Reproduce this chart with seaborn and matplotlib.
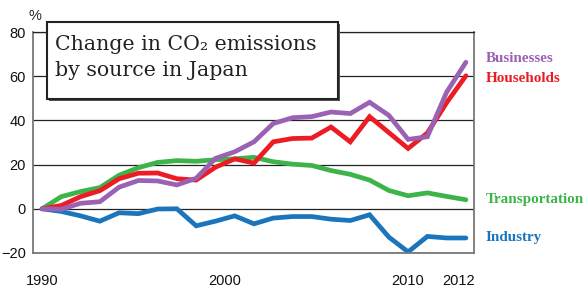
import matplotlib
matplotlib.use("Agg")
import matplotlib.pyplot as plt
import seaborn as sns
import pandas as pd
from matplotlib.patches import Rectangle

years = list(range(1990, 2013))
businesses = [0, -0.2, 2.5, 3.2, 9.8, 12.8, 12.6, 10.8, 13.8, 22.8, 25.8, 30.3,
              38.6, 41.2, 41.7, 43.8, 43.1, 48.2, 42.3, 31.4, 32.6, 52.8, 66.3]
households = [0, 1.5, 5.5, 8.2, 13.6, 16.1, 16.2, 13.6, 13.0, 18.8, 22.6, 20.7,
              30.3, 31.8, 32.0, 37.0, 30.3, 41.7, 34.5, 27.3, 34.3, 48.0, 60.2]
transportation = [0, 5.5, 7.8, 9.6, 15.2, 18.6, 21.0, 21.8, 21.5, 22.2, 22.6, 23.3,
                  21.3, 20.2, 19.6, 17.3, 15.6, 13.0, 8.3, 5.9, 7.2, 5.6, 4.1]
industry = [0, -1.2, -3.2, -5.6, -1.8, -2.2, -0.1, 0, -7.7, -5.6, -3.2, -6.8,
            -4.2, -3.5, -3.5, -4.7, -5.3, -2.7, -12.8, -19.5, -12.5, -13.2, -13.2]

sources = ["Industry", "Transportation", "Households", "Businesses"]
colors = {"Businesses": "#9b62b4", "Households": "#ec1c24",
          "Transportation": "#3cb44a", "Industry": "#1a75bc"}
y_ticks = [-20, 0, 20, 40, 60, 80]
x_tick_pos = [1990, 1999.5, 2009, 2011.6]
x_tick_labels = ["1990", "2000", "2010", "2012"]
title_lines = ["Change in CO\u2082 emissions", "by source in Japan"]

df = pd.DataFrame({"year": years, "Businesses": businesses, "Households": households,
                   "Transportation": transportation, "Industry": industry})
long_df = df.melt(id_vars="year", var_name="source", value_name="pct")

sns.set_style("white")
plt.rcParams["font.family"] = ["Liberation Sans", "DejaVu Sans"]

W, H = 583, 287
fig = plt.figure(figsize=(W / 100, H / 100), dpi=100)
ax = fig.add_axes([33 / W, 34 / H, 441 / W, 221 / H])

sns.lineplot(data=long_df, x="year", y="pct", hue="source", hue_order=sources,
             palette=colors, linewidth=3.4, legend=False, ax=ax,
             solid_joinstyle="miter")

ax.set_xlim(1990 - 0.47, 1990 + 22.42)
ax.set_ylim(-20, 80)
ax.set_yticks(y_ticks)
ax.set_xticks(x_tick_pos)
ax.set_xticklabels(x_tick_labels)
ax.set_xlabel("")
ax.set_ylabel("")
ax.yaxis.grid(True, color="#222222", linewidth=0.9)
ax.xaxis.grid(False)
ax.set_axisbelow(True)
ax.tick_params(axis="both", length=0, labelsize=10.5, colors="#111111")
ax.tick_params(axis="y", pad=5)
ax.tick_params(axis="x", pad=15)
for side in ["left", "right", "bottom"]:
    ax.spines[side].set_color("#777777")
    ax.spines[side].set_linewidth(1.3)
ax.spines["top"].set_color("#222222")
ax.spines["top"].set_linewidth(0.9)

fig.text(35 / W, 1 - 16 / H, "%", ha="center", va="center", fontsize=10.5)

# title box
fig.add_artist(Rectangle((48.5 / W, 1 - 100.5 / H), (338 - 47) / W, (99 - 22) / H,
                         transform=fig.transFigure, facecolor="#555555",
                         edgecolor="none", zorder=4))
fig.add_artist(Rectangle((47 / W, 1 - 99 / H), (338 - 47) / W, (99 - 22) / H,
                         transform=fig.transFigure, facecolor="white",
                         edgecolor="#222222", linewidth=1.5, zorder=5))
fig.text(55 / W, 1 - 45 / H, title_lines[0], ha="left", va="center",
         fontsize=14.8, family=["DejaVu Serif"], color="#222222", zorder=6)
fig.text(55 / W, 1 - 71 / H, title_lines[1], ha="left", va="center",
         fontsize=14.8, family=["DejaVu Serif"], color="#222222", zorder=6)

label_y = {"Businesses": 58, "Households": 78, "Transportation": 200, "Industry": 238}
for name in sources:
    fig.text(486 / W, 1 - label_y[name] / H, name, ha="left", va="center",
             fontsize=10.9, fontweight="bold", family=["Liberation Serif"],
             color=colors[name])

fig.savefig("out.png", dpi=100)
